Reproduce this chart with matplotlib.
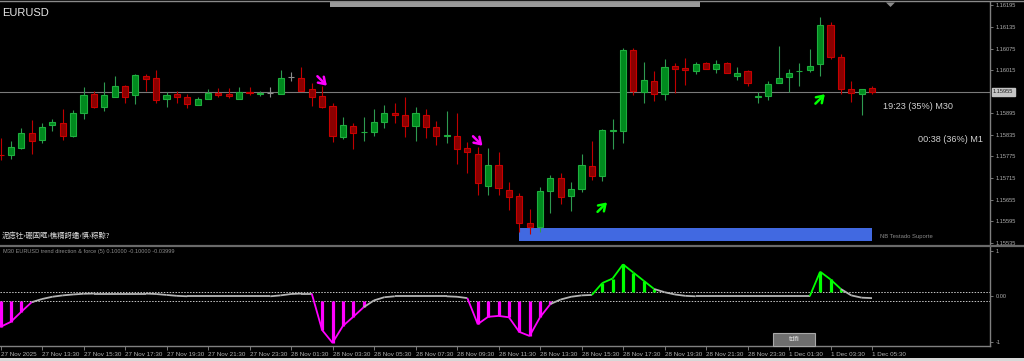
import matplotlib
matplotlib.use("Agg")
import matplotlib.pyplot as plt
import numpy as np
import pandas as pd
from matplotlib.collections import LineCollection
from matplotlib.patches import Rectangle, Polygon
from matplotlib.lines import Line2D
from matplotlib.transforms import offset_copy

# M30 bars, weekend gap skipped
times = list(pd.date_range("2025-11-27 11:30", "2025-11-28 23:30", freq="30min")) + \
        list(pd.date_range("2025-12-01 00:00", "2025-12-01 05:30", freq="30min"))

opens = [1.15780, 1.15779, 1.15799, 1.15839, 1.15820, 1.15863, 1.15867, 1.15832, 1.15896, 1.15948,
         1.15913, 1.15941, 1.15970, 1.15945, 1.16000, 1.15992, 1.15934, 1.15949, 1.15941, 1.15919,
         1.15935, 1.15951, 1.15948, 1.15935, 1.15954, 1.15950, 1.15952, 1.15949, 1.15997, 1.15992,
         1.15962, 1.15943, 1.15915, 1.15830, 1.15859, 1.15842, 1.15843, 1.15870, 1.15896, 1.15889,
         1.15860, 1.15890, 1.15857, 1.15832, 1.15833, 1.15798, 1.15783, 1.15694, 1.15752, 1.15683,
         1.15665, 1.15589, 1.15578, 1.15679, 1.15716, 1.15665, 1.15684, 1.15748, 1.15721, 1.15846,
         1.15845, 1.16071, 1.15955, 1.15986, 1.15948, 1.16026, 1.16021, 1.16013, 1.16034, 1.16018,
         1.16035, 1.15999, 1.16012, 1.15940, 1.15943, 1.15980, 1.15995, 1.16012, 1.16016, 1.16031,
         1.16140, 1.16052, 1.15962, 1.15950, 1.15966]
highs = [1.15825, 1.15818, 1.15853, 1.15876, 1.15867, 1.15878, 1.15907, 1.15904, 1.15967, 1.15958,
         1.15981, 1.15998, 1.15973, 1.16004, 1.16004, 1.16015, 1.15953, 1.15958, 1.15950, 1.15939,
         1.15963, 1.15965, 1.15966, 1.15967, 1.15967, 1.15958, 1.15967, 1.16015, 1.16011, 1.16023,
         1.15980, 1.15972, 1.15924, 1.15884, 1.15869, 1.15885, 1.15907, 1.15917, 1.15923, 1.15939,
         1.15913, 1.15906, 1.15873, 1.15901, 1.15895, 1.15815, 1.15800, 1.15798, 1.15788, 1.15704,
         1.15672, 1.15628, 1.15690, 1.15723, 1.15728, 1.15704, 1.15783, 1.15818, 1.15852, 1.15878,
         1.16076, 1.16077, 1.16038, 1.16013, 1.16046, 1.16036, 1.16048, 1.16038, 1.16038, 1.16043,
         1.16038, 1.16023, 1.16015, 1.15955, 1.15986, 1.16082, 1.16017, 1.16036, 1.16075, 1.16162,
         1.16150, 1.16060, 1.15986, 1.15963, 1.15971]
lows = [1.15765, 1.15767, 1.15795, 1.15783, 1.15813, 1.15846, 1.15820, 1.15828, 1.15880, 1.15911,
        1.15902, 1.15939, 1.15923, 1.15921, 1.15958, 1.15923, 1.15913, 1.15923, 1.15911, 1.15917,
        1.15934, 1.15941, 1.15938, 1.15934, 1.15946, 1.15943, 1.15941, 1.15948, 1.15986, 1.15956,
        1.15916, 1.15911, 1.15816, 1.15824, 1.15797, 1.15818, 1.15833, 1.15854, 1.15869, 1.15828,
        1.15818, 1.15827, 1.15808, 1.15813, 1.15754, 1.15730, 1.15667, 1.15669, 1.15667, 1.15626,
        1.15565, 1.15559, 1.15565, 1.15617, 1.15644, 1.15623, 1.15675, 1.15709, 1.15707, 1.15795,
        1.15813, 1.15946, 1.15924, 1.15930, 1.15932, 1.15952, 1.15974, 1.16003, 1.16017, 1.16008,
        1.16006, 1.15989, 1.15971, 1.15923, 1.15932, 1.15978, 1.15954, 1.15971, 1.16011, 1.16000,
        1.16046, 1.15948, 1.15927, 1.15890, 1.15948]
closes = [1.15778, 1.15802, 1.15839, 1.15818, 1.15857, 1.15870, 1.15833, 1.15896, 1.15946, 1.15913,
          1.15945, 1.15970, 1.15941, 1.16002, 1.15991, 1.15933, 1.15946, 1.15941, 1.15921, 1.15935,
          1.15951, 1.15946, 1.15944, 1.15953, 1.15952, 1.15951, 1.15952, 1.15993, 1.15997, 1.15957,
          1.15940, 1.15913, 1.15832, 1.15862, 1.15839, 1.15843, 1.15870, 1.15896, 1.15890, 1.15860,
          1.15895, 1.15857, 1.15833, 1.15834, 1.15796, 1.15786, 1.15700, 1.15750, 1.15688, 1.15663,
          1.15589, 1.15578, 1.15678, 1.15716, 1.15663, 1.15684, 1.15750, 1.15720, 1.15848, 1.15848,
          1.16071, 1.15957, 1.15987, 1.15950, 1.16024, 1.16019, 1.16015, 1.16031, 1.16019, 1.16033,
          1.16008, 1.16006, 1.15978, 1.15942, 1.15976, 1.15992, 1.16008, 1.16014, 1.16026, 1.16140,
          1.16052, 1.15963, 1.15952, 1.15963, 1.15954]

# trend direction & force values
tdf = [-0.67, -0.56, -0.34, -0.13, -0.06, -0.01, 0.02, 0.04, 0.055, 0.06,
       0.06, 0.06, 0.06, 0.06, 0.06, 0.05, 0.03, 0.01, 0.0, 0.0,
       0.0, 0.0, 0.0, 0.0, 0.0, 0.0, 0.0, 0.02, 0.05, 0.06,
       0.06, -0.74, -1.02, -0.65, -0.45, -0.24, -0.09, -0.02, 0.0, 0.0,
       0.0, 0.0, 0.0, 0.0, -0.01, -0.04, -0.61, -0.45, -0.43, -0.46,
       -0.78, -0.87, -0.46, -0.17, -0.07, -0.01, 0.02, 0.03, 0.29, 0.39,
       0.70, 0.52, 0.34, 0.16, 0.09, 0.04, 0.01, 0.0, 0.0, 0.0,
       0.0, 0.0, 0.0, 0.0, 0.0, 0.0, 0.0, 0.0, 0.0, 0.54,
       0.37, 0.16, 0.02, -0.03, -0.04]
up_level, dn_level = 0.1, -0.1

bid = 1.15955
price_ticks = [1.16195, 1.16135, 1.16075, 1.16015, 1.15895, 1.15835,
               1.15775, 1.15715, 1.15655, 1.15595, 1.15535]

sell_times = ["2025-11-28 03:00", "2025-11-28 10:30"]
sell_prices = [1.15985, 1.15818]
buy_times = ["2025-11-28 16:30", "2025-12-01 03:00"]
buy_prices = [1.15634, 1.15935]

zone_start, zone_end = "2025-11-28 12:30", "2025-12-01 05:30"
zone_top, zone_bottom = 1.15575, 1.15541

# ---------------------------------------------------------------
W, H = 1024, 361
def px_rect(x0, y0, x1, y1):
    return [x0 / W, 1 - y1 / H, (x1 - x0) / W, (y1 - y0) / H]

fig = plt.figure(figsize=(10.24, 3.61), dpi=100, facecolor='black')
ax = fig.add_axes(px_rect(0, 2, 990, 244), facecolor='black')
ax2 = fig.add_axes(px_rect(0, 247, 990, 346), facecolor='black')

def bar_of(t):
    return times.index(pd.Timestamp(t))

x = np.arange(len(times))
o, h, l, c = map(np.array, (opens, highs, lows, closes))
up = c > o
dn = c < o
body_col = np.where(up, '#008a1e', np.where(dn, '#8b0000', '#8c8c8c'))
edge_col = np.where(up, '#1fae3e', np.where(dn, '#c80000', '#8c8c8c'))
wick_col = np.where(up, '#2e9a50', np.where(dn, '#c00000', '#8c8c8c'))

ax.vlines(x, l, h, colors=wick_col, lw=0.8, zorder=3)
ax.bar(x, np.maximum(np.abs(c - o), 0.000004), 0.6, np.minimum(o, c),
       color=body_col, edgecolor=edge_col, lw=0.8, zorder=4)

ax.axhline(bid, color='#7a7a7a', lw=0.8, zorder=1)

# support zone
zs, ze = bar_of(zone_start), bar_of(zone_end)
ax.add_patch(Rectangle((zs, zone_bottom), ze - zs, zone_top - zone_bottom,
                       facecolor='#4169e1', edgecolor='none', zorder=2))
ax.text(ze + 0.8, (zone_top + zone_bottom) / 2 - 0.00006, "NB Testado Suporte",
        color='#8a8a8a', fontsize=4.2, family='Liberation Sans', va='center', ha='left')

# signal arrows
def signal_arrow(xb, yp, color, down):
    s = 3.4
    dx, dy = (s, -s) if down else (s, s)
    tip = offset_copy(ax.transData, fig=fig, x=dx, y=dy, units='points')
    ax.annotate('', xy=(xb, yp), xycoords=tip, xytext=(-2 * dx, -2 * dy),
                textcoords='offset points', zorder=6,
                arrowprops=dict(arrowstyle='->,head_length=0.45,head_width=0.3',
                                color=color, lw=1.8, shrinkA=0, shrinkB=0))

for t, p in zip(sell_times, sell_prices):
    signal_arrow(bar_of(t), p, '#ff00ff', True)
for t, p in zip(buy_times, buy_prices):
    signal_arrow(bar_of(t), p, '#00ff00', False)

last = len(times) - 1
ax.text(last + 1.06, 1.15913, "19:23 (35%) M30", color='#d0d0d0', fontsize=6.6,
        family='Liberation Sans', va='center', ha='left')
ax.text(last + 4.43, 1.15821, "00:38 (36%) M1", color='#d0d0d0', fontsize=6.6,
        family='Liberation Sans', va='center', ha='left')

ax.text(0.002, 0.955, "EURUSD", transform=ax.transAxes, color='#e6e6e6', fontsize=8,
        family='Liberation Sans', va='center', ha='left')
ax.text(0.002, 0.035, "泥痣牡›硼固眶›樵糈訝蟠›慎›粽黥?", transform=ax.transAxes,
        color='#e0e0e0', fontsize=5.3, family=['Noto Sans CJK SC', 'DejaVu Sans'],
        va='center', ha='left')

xlim = (-0.5 / 10.375, 989.5 / 10.375)
ax.set_xlim(*xlim)
ax.set_ylim(1.155314, 1.162047)
ax.set_xticks([])
ax.yaxis.tick_right()
ax.set_yticks(price_ticks)
ax.set_yticklabels([f"{p:.5f}" for p in price_ticks])
ax.tick_params(axis='y', colors='#8a8a8a', labelcolor='#b0b0b0', labelsize=4.1,
               length=2.5, width=0.6, pad=1.5)
for lab in ax.get_yticklabels():
    lab.set_family('Liberation Sans')
for side in ('left', 'top', 'bottom'):
    ax.spines[side].set_visible(False)
ax.spines['right'].set_color('#808080')
ax.spines['right'].set_linewidth(1)

ax.annotate(f"{bid:.5f}", xy=(1.0, bid), xycoords=('axes fraction', 'data'),
            xytext=(2.2, 0), textcoords='offset points', ha='left', va='center',
            fontsize=4.1, family='Liberation Sans', color='#202020',
            bbox=dict(boxstyle='square,pad=0.25', fc='#c4c4c4', ec='#c4c4c4'))

# ---- indicator panel ----
v = np.array(tdf)
state = np.where(v > up_level, 1, np.where(v < dn_level, -1, 0))
cmap = {1: '#00ff00', -1: '#ff00ff', 0: '#b4b4b4'}
segs = [[(k - 1, v[k - 1]), (k, v[k])] for k in range(1, len(v))]
ax2.add_collection(LineCollection(segs, colors=[cmap[s] for s in state[1:]], lw=1.3, zorder=3))
for s, lev in ((1, up_level), (-1, dn_level)):
    m = state == s
    ax2.vlines(x[m], lev, v[m], colors=cmap[s], lw=2.3, zorder=2)
for lev in (up_level, dn_level):
    ax2.axhline(lev, color='#c8c8c8', ls=(0, (1.5, 1.5)), lw=0.7, zorder=1)

ax2.text(0.003, 0.95, "M30 EURUSD trend direction & force (5) 0.10000 -0.10000 -0.03999",
         transform=ax2.transAxes, color='#8c8c8c', fontsize=4.1, family='Liberation Sans',
         va='center', ha='left')

ax2.set_xlim(*xlim)
ax2.set_ylim(-1.090, 1.081)
ax2.yaxis.tick_right()
ax2.set_yticks([1, 0, -1])
ax2.set_yticklabels(['1', '0.00', '-1'])
ax2.tick_params(axis='y', colors='#8a8a8a', labelcolor='#b0b0b0', labelsize=4.1,
                length=2.5, width=0.6, pad=1.5)

tick_idx = [k for k, t in enumerate(times) if t.minute == 30 and t.hour % 2 == 1]
tick_lab = [f"{times[k].day} {times[k]:%b} {times[k].year}" if n == 0
            else f"{times[k].day} {times[k]:%b} {times[k]:%H:%M}"
            for n, k in enumerate(tick_idx)]
ax2.set_xticks(tick_idx)
ax2.set_xticklabels(tick_lab)
ax2.tick_params(axis='x', colors='#8a8a8a', labelcolor='#b0b0b0', labelsize=4.5,
                length=3, width=0.6, pad=1.2)
for lab in ax2.get_xticklabels() + ax2.get_yticklabels():
    lab.set_family('Liberation Sans')
for lab in ax2.get_xticklabels():
    lab.set_ha('left')
for side in ('left', 'top'):
    ax2.spines[side].set_visible(False)
for side in ('right', 'bottom'):
    ax2.spines[side].set_color('#808080')
    ax2.spines[side].set_linewidth(1)

# ---- window chrome ----
fig.add_artist(Line2D([0, 1], [1 - 245.5 / H] * 2, color='#6a6a6a', lw=1.6))
fig.add_artist(Line2D([0, 1], [1 - 0.6 / H] * 2, color='#8a8a8a', lw=1.0))
fig.add_artist(Rectangle((330 / W, 1 - 6.5 / H), 370 / W, 4.5 / H, transform=fig.transFigure,
                         facecolor='#9a9a9a', edgecolor='none'))
fig.add_artist(Polygon([[886 / W, 1 - 2.5 / H], [895 / W, 1 - 2.5 / H], [890.5 / W, 1 - 7 / H]],
                       closed=True, transform=fig.transFigure, facecolor='#8a8a8a', edgecolor='none'))
fig.add_artist(Rectangle((0, 0), 1, 3.5 / H, transform=fig.transFigure,
                         facecolor='#d8d8d8', edgecolor='none'))
fig.add_artist(Rectangle((773 / W, 1 - 346 / H), 42 / W, 13 / H, transform=fig.transFigure,
                         facecolor='#6e6e6e', edgecolor='#a8a8a8', lw=0.8))
fig.text(794 / W, 1 - 339.5 / H, "tdfi", color='#e8e8e8', fontsize=5.8,
         family='Liberation Sans', ha='center', va='center')

fig.savefig("out.png", dpi=100, facecolor='black')
